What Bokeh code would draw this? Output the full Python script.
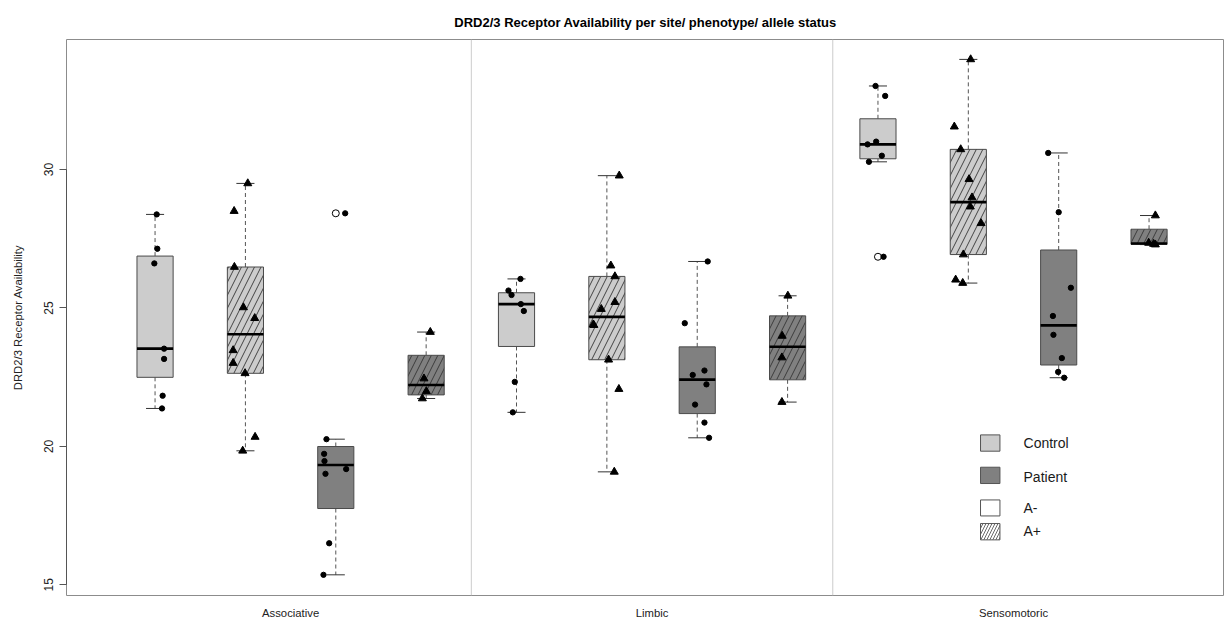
import numpy as np
from bokeh.plotting import figure
from bokeh.models import Range1d, FixedTicker, Span
from bokeh.embed import file_html
from bokeh.resources import INLINE
from bokeh.core.properties import value

# ---------------- data ----------------
sites = ["Associative", "Limbic", "Sensomotoric"]
phenotypes = ["Control", "Patient"]
alleles = ["A-", "A+"]
y_ticks = [15, 20, 25, 30]

assoc_ctrl_aneg = [28.38, 27.14, 26.61, 23.53, 23.16, 21.83, 21.37]
assoc_ctrl_apos = [29.50, 28.50, 26.48, 25.02, 24.63, 23.47, 23.01, 22.64, 20.34, 19.84]
assoc_pat_aneg = [28.42, 20.26, 19.73, 19.47, 19.01, 19.18, 16.50, 15.36]
assoc_pat_apos = [24.13, 22.45, 21.99, 21.73]

limb_ctrl_aneg = [26.05, 25.63, 25.47, 25.14, 24.89, 22.33, 21.23]
limb_ctrl_apos = [29.78, 26.53, 26.14, 25.21, 24.96, 24.40, 24.38, 23.13, 22.07, 19.08]
limb_pat_aneg = [26.68, 24.45, 22.74, 22.58, 22.24, 21.51, 20.86, 20.31]
limb_pat_apos = [25.44, 23.99, 23.21, 21.60]

sens_ctrl_aneg = [33.02, 32.66, 31.01, 30.91, 30.50, 30.28, 26.85]
sens_ctrl_apos = [33.98, 31.55, 30.73, 29.65, 28.99, 28.66, 28.06, 26.93, 26.02, 25.90]
sens_pat_aneg = [30.60, 28.46, 25.73, 24.71, 24.03, 23.19, 22.69, 22.48]
sens_pat_apos = [28.34, 27.35, 27.31, 27.29]

# horizontal jitter of the individual points
assoc_ctrl_aneg_jit = [0.018, 0.025, -0.008, 0.10, 0.10, 0.084, 0.077]
assoc_ctrl_apos_jit = [0.026, -0.125, -0.122, -0.022, 0.103, -0.136, -0.136, -0.004, 0.107, -0.03]
assoc_pat_aneg_jit = [0.104, -0.103, -0.129, -0.125, -0.114, 0.115, -0.073, -0.136]
assoc_pat_apos_jit = [0.046, -0.024, 0.002, -0.042]
limb_ctrl_aneg_jit = [0.044, -0.089, -0.055, 0.048, 0.081, -0.019, -0.041]
limb_ctrl_apos_jit = [0.137, 0.044, 0.089, 0.089, -0.062, -0.151, -0.144, 0.019, 0.133, 0.082]
limb_pat_aneg_jit = [0.116, -0.138, 0.08, -0.05, 0.102, -0.024, 0.08, 0.131]
limb_pat_apos_jit = [0.003, -0.06, -0.063, -0.063]
sens_ctrl_aneg_jit = [-0.027, 0.08, -0.02, -0.115, 0.043, -0.1, 0.062]
sens_ctrl_apos_jit = [0.026, -0.155, -0.084, 0.008, 0.041, 0.022, 0.141, -0.055, -0.14, -0.062]
sens_pat_aneg_jit = [-0.116, 0.0, 0.135, -0.064, -0.058, 0.035, -0.006, 0.061]
sens_pat_apos_jit = [0.07, -0.004, 0.051, 0.07]

groups = [
    (assoc_ctrl_aneg, assoc_ctrl_aneg_jit, "Control", "A-"),
    (assoc_ctrl_apos, assoc_ctrl_apos_jit, "Control", "A+"),
    (assoc_pat_aneg, assoc_pat_aneg_jit, "Patient", "A-"),
    (assoc_pat_apos, assoc_pat_apos_jit, "Patient", "A+"),
    (limb_ctrl_aneg, limb_ctrl_aneg_jit, "Control", "A-"),
    (limb_ctrl_apos, limb_ctrl_apos_jit, "Control", "A+"),
    (limb_pat_aneg, limb_pat_aneg_jit, "Patient", "A-"),
    (limb_pat_apos, limb_pat_apos_jit, "Patient", "A+"),
    (sens_ctrl_aneg, sens_ctrl_aneg_jit, "Control", "A-"),
    (sens_ctrl_apos, sens_ctrl_apos_jit, "Control", "A+"),
    (sens_pat_aneg, sens_pat_aneg_jit, "Patient", "A-"),
    (sens_pat_apos, sens_pat_apos_jit, "Patient", "A+"),
]

# ---------------- styling ----------------
FONT = "Liberation Sans"
fill_of = {"Control": "#cccccc", "Patient": "#808080"}
BORDER = "#4a4a4a"
HALF = 0.2


def fivenum(x):
    x = np.sort(np.asarray(x, float))
    n = len(x)
    n4 = np.floor((n + 3) / 2) / 2
    d = np.array([1, n4, (n + 1) / 2, n + 1 - n4, n]) - 1
    return 0.5 * (x[np.floor(d).astype(int)] + x[np.ceil(d).astype(int)])


p = figure(width=1224, height=621,
           x_range=Range1d(0.02, 12.835), y_range=Range1d(14.613, 34.699),
           output_backend="svg", toolbar_location=None,
           min_border_left=66, min_border_right=0, min_border_top=39, min_border_bottom=26)
p.xgrid.visible = False
p.ygrid.visible = False
p.outline_line_color = "#8c8c8c"
p.outline_line_width = 1
p.background_fill_color = "white"

p.title.text = "DRD2/3 Receptor Availability per site/ phenotype/ allele status"
p.title.align = "center"
p.title.text_font = FONT
p.title.text_font_size = "13px"
p.title.text_font_style = "bold"
p.title.text_color = "#000000"
p.title.standoff = 19

# y axis
ya = p.yaxis[0]
ya.ticker = FixedTicker(ticks=y_ticks)
ya.bounds = (15, 30)
ya.axis_line_color = "#555555"
ya.major_tick_line_color = "#555555"
ya.major_tick_out = 7
ya.major_tick_in = 0
ya.minor_tick_line_color = None
ya.major_label_orientation = "vertical"
ya.major_label_text_font = FONT
ya.major_label_text_font_size = "12px"
ya.major_label_text_color = "#222222"
ya.major_label_standoff = 6
ya.axis_label = "DRD2/3 Receptor Availability"
ya.axis_label_text_font = FONT
ya.axis_label_text_font_size = "11.3px"
ya.axis_label_text_font_style = "normal"
ya.axis_label_text_color = "#222222"
ya.axis_label_standoff = 18

# x axis: site names at group centres
xa = p.xaxis[0]
site_centres = [4 * i + 2.5 for i in range(len(sites))]
xa.ticker = FixedTicker(ticks=site_centres)
xa.major_label_overrides = {c: s for c, s in zip(site_centres, sites)}
xa.axis_line_color = None
xa.major_tick_line_color = None
xa.major_tick_out = 0
xa.major_tick_in = 0
xa.minor_tick_line_color = None
xa.minor_tick_out = 0
xa.major_label_text_font = FONT
xa.major_label_text_font_size = "11.3px"
xa.major_label_text_color = "#222222"
xa.major_label_standoff = 11

# separators between sites
for i in range(1, len(sites)):
    p.add_layout(Span(location=4 * i + 0.5, dimension="height",
                      line_color="#cccccc", line_width=1))

# boxes
for k, (vals, jit, phen, al) in enumerate(groups):
    pos = k + 1
    v = np.asarray(vals, float)
    lo, q1, med, q3, hi = fivenum(v)
    iqr = q3 - q1
    inside = v[(v >= q1 - 1.5 * iqr) & (v <= q3 + 1.5 * iqr)]
    wlo, whi = inside.min(), inside.max()
    outl = v[(v < q1 - 1.5 * iqr) | (v > q3 + 1.5 * iqr)]

    p.segment(x0=[pos, pos], y0=[q3, q1], x1=[pos, pos], y1=[whi, wlo],
              line_color="#555555", line_width=1, line_dash="4 3")
    p.segment(x0=[pos - HALF / 2] * 2, y0=[whi, wlo], x1=[pos + HALF / 2] * 2, y1=[whi, wlo],
              line_color="#333333", line_width=1)
    p.quad(left=[pos - HALF], right=[pos + HALF], bottom=[q1], top=[q3],
           fill_color=fill_of[phen], line_color=BORDER, line_width=1,
           hatch_pattern="/" if al == "A+" else " ",
           hatch_color="#333333", hatch_weight=0.9, hatch_scale=13)
    p.segment(x0=[pos - HALF], y0=[med], x1=[pos + HALF], y1=[med],
              line_color="black", line_width=2.6)
    if len(outl):
        p.scatter(x=[pos] * len(outl), y=outl, marker="circle", size=7,
                  fill_color="white", line_color="black", line_width=1)
    xs = [pos + j for j in jit]
    if al == "A-":
        p.scatter(x=xs, y=v, marker="circle", size=5.3, fill_color="black", line_color="black")
    else:
        p.scatter(x=xs, y=v, marker="triangle", size=8, fill_color="black", line_color="black")

# legend (drawn inside the plotting area)
leg_labels = ["Control", "Patient", "A-", "A+"]
leg_fill = ["#cccccc", "#808080", "white", "white"]
leg_hatch = [" ", " ", " ", "/"]
leg_top = [20.415, 19.247, 18.065, 17.212]
leg_bottom = [19.826, 18.658, 17.487, 16.623]
leg_text_y = [20.125, 18.91, 17.79, 16.96]
for lab, fc, hp, t, b in zip(leg_labels, leg_fill, leg_hatch, leg_top, leg_bottom):
    p.quad(left=[10.135], right=[10.35], top=[t], bottom=[b], fill_color=fc,
           line_color="#555555", line_width=1, hatch_pattern=hp,
           hatch_color="#444444", hatch_weight=0.8, hatch_scale=6)
p.text(x=[10.611] * 4, y=leg_text_y, text=leg_labels, text_font=value(FONT),
       text_font_size="14px", text_color="#1a1a1a", text_baseline="middle", text_align="left")

open("out.html", "w").write(file_html(p, INLINE))
